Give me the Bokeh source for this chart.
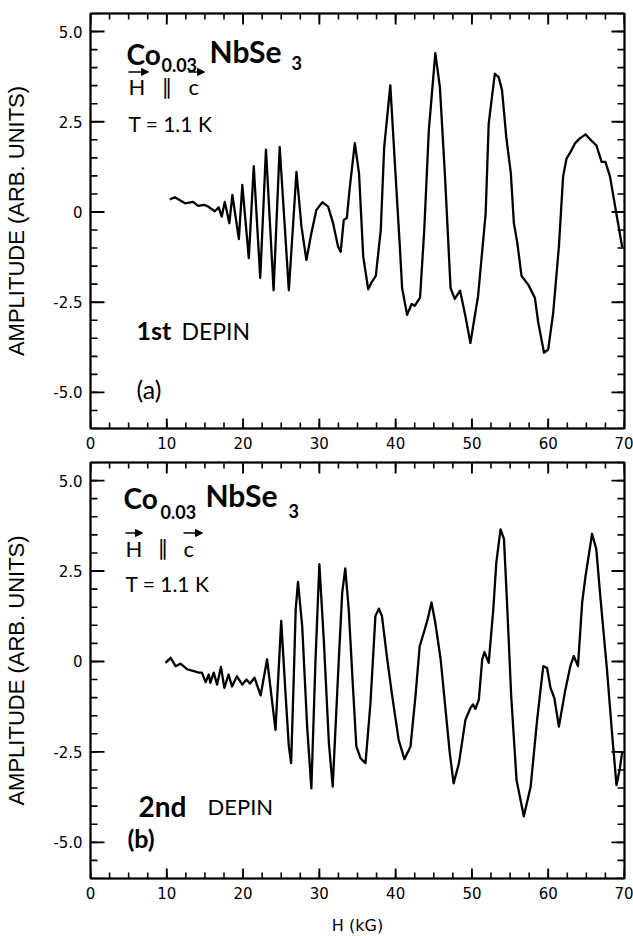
from bokeh.plotting import figure
from bokeh.models import (LinearAxis, FixedTicker, Label, Arrow, NormalHead,
                          CustomJSTickFormatter, Range1d)
from bokeh.layouts import column
from bokeh.embed import file_html
from bokeh.resources import INLINE

# ---------------- data ----------------
# panel (a): 1st depin
H1 = [10.4, 11.05, 12.4, 13.45, 14.1, 14.9, 15.4, 16.3, 16.8, 17.2, 17.6, 18.2,
      18.6, 19.45, 19.9, 20.75, 21.4, 22.25, 23.0, 24.0, 24.8, 26.0, 27.0, 27.65,
      28.3, 28.95, 29.6, 30.4, 31.15, 31.8, 32.45, 32.8, 33.2, 33.6, 34.0, 34.65,
      35.2, 35.75, 36.4, 36.85, 37.4, 38.05, 38.5, 39.3, 39.9, 40.55, 40.85, 41.5,
      42.1, 42.5, 43.2, 43.75, 44.35, 45.2, 45.8, 46.45, 47.2, 47.75, 48.45, 49.15,
      49.8, 50.8, 51.8, 52.2, 53.0, 53.5, 53.95, 54.5, 55.1, 55.5, 55.95, 56.5,
      57.4, 58.25, 58.7, 59.45, 60.0, 60.65, 61.4, 61.95, 62.4, 62.95, 63.5, 64.15,
      64.9, 65.6, 66.3, 67.0, 67.5, 68.1, 68.7, 69.7]
A1 = [0.35, 0.41, 0.24, 0.28, 0.17, 0.20, 0.15, 0.02, 0.13, -0.13, 0.28, -0.31,
      0.47, -0.75, 0.75, -1.28, 1.27, -1.83, 1.73, -2.17, 1.80, -2.17, 1.11, -0.40,
      -1.33, -0.59, 0.05, 0.27, 0.15, -0.31, -0.96, -1.10, -0.22, -0.17, 0.70, 1.91,
      1.07, -1.23, -2.14, -1.95, -1.77, -0.50, 1.80, 3.51, 1.35, -0.96, -2.11, -2.85,
      -2.55, -2.60, -2.37, -0.50, 2.27, 4.40, 3.46, 1.07, -2.11, -2.41, -2.18, -2.89,
      -3.63, -2.34, -0.04, 2.45, 3.83, 3.74, 3.37, 2.08, 1.07, -0.31, -0.86, -1.77,
      -2.02, -2.38, -3.07, -3.90, -3.81, -2.80, -0.96, 0.98, 1.48, 1.67, 1.90, 2.04,
      2.15, 1.99, 1.85, 1.39, 1.39, 0.98, 0.24, -0.98]

# panel (b): 2nd depin
H2 = [9.83, 10.5, 11.15, 11.8, 12.7, 13.55, 14.2, 14.6, 15.1, 15.5, 15.7, 16.15,
      16.6, 17.1, 17.55, 18.1, 18.55, 19.2, 19.9, 20.45, 20.9, 21.5, 22.3, 23.15,
      24.25, 25.0, 25.56, 26.0, 26.3, 26.65, 26.9, 27.2, 27.75, 28.4, 28.95, 29.5,
      30.0, 30.6, 31.25, 31.75, 32.55, 33.0, 33.4, 33.85, 34.4, 34.85, 35.4, 36.05,
      36.7, 37.35, 37.8, 38.2, 38.9, 39.55, 40.4, 41.15, 41.95, 42.6, 43.15, 43.7,
      44.2, 44.7, 45.2, 45.9, 46.5, 47.1, 47.6, 48.3, 49.15, 49.8, 50.15, 50.45,
      50.9, 51.35, 51.65, 52.2, 52.8, 53.2, 53.75, 54.2, 54.6, 55.15, 55.85, 56.8,
      57.7, 58.55, 59.35, 59.85, 60.3, 60.8, 61.4, 62.25, 62.9, 63.35, 63.9, 64.45,
      64.9, 65.75, 66.3, 66.9, 67.7, 68.4, 68.95, 69.4, 69.7]
A2 = [-0.04, 0.10, -0.13, -0.06, -0.22, -0.27, -0.31, -0.31, -0.57, -0.36, -0.59, -0.31,
      -0.64, -0.15, -0.73, -0.36, -0.69, -0.41, -0.64, -0.50, -0.61, -0.45, -0.94, 0.06,
      -1.89, 1.12, -0.87, -2.35, -2.81, -0.41, 1.44, 2.20, 0.98, -1.80, -3.51, 0.06,
      2.69, 0.52, -2.26, -3.46, 0.06, 1.91, 2.57, 1.44, -0.69, -2.35, -2.68, -2.81,
      -1.15, 1.26, 1.46, 1.26, 0.06, -0.96, -2.17, -2.70, -2.35, -0.96, 0.42, 0.80,
      1.17, 1.63, 1.07, 0.06, -1.24, -2.54, -3.37, -2.81, -1.61, -1.29, -1.19, -1.31,
      -1.06, 0.06, 0.26, -0.04, 1.44, 2.74, 3.65, 3.39, 1.63, -0.96, -3.28, -4.28,
      -3.46, -1.61, -0.13, -0.18, -0.73, -1.01, -1.80, -0.78, -0.13, 0.15, -0.13, 1.63,
      2.37, 3.53, 3.11, 1.63, -0.22, -2.07, -3.42, -2.95, -2.49]

X_RANGE = (0, 70)
Y_RANGE = (-6, 5.5)
X_TICKS = [0, 10, 20, 30, 40, 50, 60, 70]
X_MINOR = [i * 2.5 for i in range(29)]
Y_TICKS = [-5.0, -2.5, 0.0, 2.5, 5.0]
Y_MINOR = [-6 + i * 0.5 for i in range(24)]
X_LABEL = "H (kG)"
Y_LABEL = "AMPLITUDE (ARB. UNITS)"

TICK_FONT = "DejaVu Sans"
ANN_FONT = "Lato"
FRAME_W = 534
NAN = float("nan")


def style_axis(ax, ticker, show_labels):
    ax.ticker = ticker
    ax.major_tick_in = 0
    ax.major_tick_out = 0
    ax.minor_tick_in = 0
    ax.minor_tick_out = 0
    ax.axis_line_color = "black"
    ax.axis_line_width = 1.5
    if show_labels:
        ax.major_label_text_font = TICK_FONT
        ax.major_label_text_font_size = "15px"
        ax.major_label_text_color = "black"
        ax.major_label_standoff = 8
    else:
        ax.major_label_text_font_size = "0px"
        ax.major_label_standoff = 0
        ax.formatter = CustomJSTickFormatter(code="return '';")


def make_panel(H, A, top, bottom, left, right, fheight, xlabel):
    p = figure(frame_width=FRAME_W, frame_height=fheight,
               x_range=Range1d(*X_RANGE), y_range=Range1d(*Y_RANGE),
               toolbar_location=None, output_backend="svg",
               min_border_left=left, min_border_right=right,
               min_border_top=top, min_border_bottom=bottom)
    p.grid.visible = False
    p.outline_line_color = "black"
    p.outline_line_width = 2
    p.background_fill_color = "white"
    p.border_fill_color = "white"

    style_axis(p.xaxis[0], FixedTicker(ticks=X_TICKS, minor_ticks=X_MINOR), True)
    style_axis(p.yaxis[0], FixedTicker(ticks=Y_TICKS, minor_ticks=Y_MINOR), True)
    p.yaxis[0].formatter = CustomJSTickFormatter(
        code="return tick == 0 ? '0' : tick.toFixed(1);")
    p.yaxis[0].axis_label = Y_LABEL
    p.yaxis[0].axis_label_text_font = "Liberation Sans"
    p.yaxis[0].axis_label_text_font_size = "22px"
    p.yaxis[0].axis_label_text_font_style = "normal"
    p.yaxis[0].axis_label_text_color = "black"
    p.yaxis[0].axis_label_standoff = 21
    if xlabel:
        p.xaxis[0].axis_label = X_LABEL
        p.xaxis[0].axis_label_text_font = TICK_FONT
        p.xaxis[0].axis_label_text_font_size = "16px"
        p.xaxis[0].axis_label_text_font_style = "normal"
        p.xaxis[0].axis_label_text_color = "black"
        p.xaxis[0].axis_label_standoff = 14

    ra = LinearAxis()
    style_axis(ra, FixedTicker(ticks=Y_TICKS, minor_ticks=Y_MINOR), False)
    p.add_layout(ra, "right")
    ta = LinearAxis()
    style_axis(ta, FixedTicker(ticks=X_TICKS, minor_ticks=X_MINOR), False)
    p.add_layout(ta, "above")

    # inward tick marks: one broken line (NaN gaps) per tick set
    ypx = fheight / (Y_RANGE[1] - Y_RANGE[0])
    xpx = FRAME_W / (X_RANGE[1] - X_RANGE[0])
    ya, yb = Y_RANGE
    xa, xb = X_RANGE

    def tick_path(vals, l1, l2, lw, horizontal_axis):
        xs, ys = [], []
        for v in vals:
            if horizontal_axis:
                xs += [v, v, NAN, v, v, NAN]
                ys += [ya + 0.02, ya + l1 / ypx, NAN,
                       yb - 0.02, yb - l2 / ypx, NAN]
            else:
                xs += [xa + 0.02, xa + l1 / xpx, NAN,
                       xb - 0.02, xb - l2 / xpx, NAN]
                ys += [v, v, NAN, v, v, NAN]
        p.line(xs, ys, line_color="black", line_width=lw)

    tick_path(X_MINOR, 6, 6, 1.6, True)
    tick_path(X_TICKS, 10, 11, 1.9, True)
    tick_path(Y_MINOR, 7, 7, 1.6, False)
    tick_path(Y_TICKS, 14, 13, 1.9, False)

    p.line(H, A, line_color="black", line_width=2.3, line_join="round")
    return p


def lab(p, x, y, text, size, bold=False, font=ANN_FONT):
    px = float(size.replace("px", ""))
    p.add_layout(Label(x=x, y=y + 0.4 * px / 36.1, text=text,
                       text_font=font, text_font_size=size,
                       text_font_style="bold" if bold else "normal",
                       text_color="black", text_align="left",
                       text_baseline="alphabetic"))


def arrow(p, xs, xe, y):
    p.add_layout(Arrow(x_start=xs, y_start=y, x_end=xe, y_end=y,
                       line_color="black", line_width=1.6,
                       end=NormalHead(size=7, fill_color="black",
                                      line_color="black")))


def annotate(p, co, sub, nb, s3, hl, para, cl, harr, carr, t, dep, panel):
    lab(p, co[0], co[1], "Co", "28px", True)
    lab(p, sub[0], sub[1], "0.03", "18px", True)
    lab(p, nb[0], nb[1], "NbSe", "30px", True)
    lab(p, s3[0], s3[1], "3", "18px", True)
    lab(p, hl[0], hl[1], "H", "22px")
    lab(p, para[0], para[1], "\u2225", "21px", font="DejaVu Sans")
    lab(p, cl[0], cl[1], "c", "22px")
    arrow(p, harr[0], harr[1], harr[2])
    arrow(p, carr[0], carr[1], carr[2])
    lab(p, t[0], t[1], "T = 1.1 K", "21px")
    lab(p, dep[0], dep[1], dep[2], dep[3], True)
    lab(p, dep[4], dep[5], "DEPIN", dep[6])
    lab(p, panel[0], panel[1], panel[2], "25px", panel[3])


p1 = make_panel(H1, A1, 13, 26, 89, 10, 415, False)
annotate(p1, (4.72, 4.06), (9.3, 3.87), (15.6, 4.14), (26.35, 3.92),
         (4.98, 3.23), (9.3, 3.23), (12.85, 3.23),
         (4.98, 7.6, 3.88), (12.85, 14.95, 3.88),
         (4.98, 2.21), (6.03, -3.54, "1st", "25px", 11.93, -3.54, "23px"),
         (6.03, -5.19, "(a)", False))

p2 = make_panel(H2, A2, 8, 58, 90, 9, 416, True)
annotate(p2, (4.33, 4.22), (9.18, 3.94), (15.07, 4.28), (25.95, 3.97),
         (4.59, 2.89), (8.78, 2.89), (12.19, 2.89),
         (4.59, 6.82, 3.55), (12.19, 14.68, 3.55),
         (4.59, 1.92), (6.29, -4.31, "2nd", "28px", 15.34, -4.25, "22px"),
         (4.85, -5.17, "(b)", True))

layout = column(p1, p2)
open("out.html", "w").write(file_html(layout, INLINE))
